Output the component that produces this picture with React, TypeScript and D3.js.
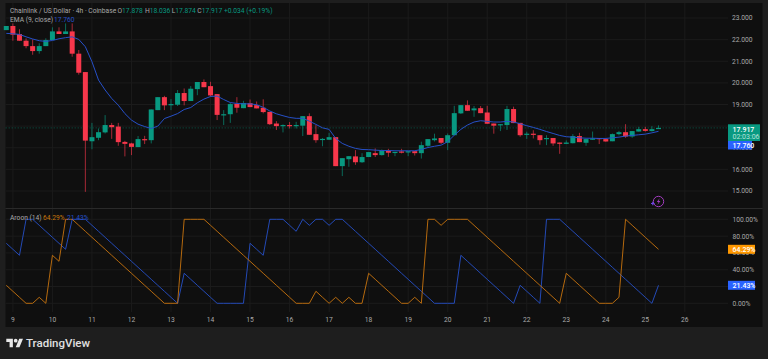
import React from "react";
import * as d3 from "d3";

const opens = [22.44,22.63,22.26,21.95,21.70,21.47,21.70,21.98,22.38,22.26,22.38,21.35,20.50,17.30,17.46,17.71,18.05,17.98,17.27,17.20,17.03,17.40,17.35,18.74,19.34,18.97,18.99,19.53,19.16,19.71,20.04,19.85,19.48,18.52,18.55,19.03,18.83,19.06,18.97,18.85,18.66,18.12,18.02,18.05,18.02,18.02,18.46,17.63,17.37,17.37,17.49,16.15,16.47,16.60,16.33,16.57,16.75,16.66,16.86,16.77,16.83,16.78,16.84,16.75,17.09,17.35,17.45,17.23,17.58,18.59,18.97,18.73,18.83,18.63,18.12,18.06,18.05,18.79,18.15,17.60,17.65,17.58,17.40,17.45,17.24,17.18,17.21,17.54,17.23,17.37,17.45,17.40,17.30,17.63,17.72,17.52,17.75,17.86,17.77,17.878];
const closes = [22.63,22.23,21.95,21.70,21.47,21.70,21.98,22.38,22.26,22.38,21.35,20.47,17.33,17.49,17.72,18.05,17.95,17.26,17.18,17.04,17.40,17.37,18.77,19.34,18.96,19.02,19.53,19.16,19.73,20.04,19.80,19.42,18.52,18.55,19.02,18.85,19.07,18.88,18.82,18.65,18.09,18.00,18.05,18.02,18.05,18.46,17.60,17.35,17.41,17.49,16.15,16.52,16.61,16.33,16.57,16.80,16.66,16.86,16.77,16.81,16.77,16.84,16.75,17.12,17.40,17.43,17.23,17.58,18.60,18.97,18.71,18.82,18.60,18.11,18.02,18.09,18.79,18.14,17.58,17.65,17.62,17.35,17.45,17.20,17.18,17.24,17.54,17.26,17.40,17.43,17.40,17.29,17.63,17.72,17.52,17.77,17.86,17.78,17.86,17.917];
const highs = [22.63,22.75,22.48,22.06,22.01,21.83,22.06,22.57,22.57,22.75,22.75,21.52,20.50,18.15,17.89,18.51,18.15,18.15,17.32,17.23,17.54,17.55,18.77,19.34,19.40,19.25,19.67,19.74,19.85,20.04,20.16,20.05,19.48,18.74,19.08,19.34,19.17,19.23,19.14,19.24,18.66,18.23,18.08,18.19,18.20,18.46,18.59,18.05,17.45,17.69,17.49,16.52,16.61,16.89,16.75,16.80,16.97,16.92,16.95,16.81,16.95,16.84,16.86,17.28,17.40,17.65,17.45,17.66,18.94,18.97,19.19,18.93,18.93,18.94,18.12,18.09,18.94,18.90,18.15,17.74,17.81,17.58,17.58,17.45,17.24,17.34,17.63,17.69,17.40,17.75,17.45,17.45,17.66,17.78,18.09,17.77,17.97,17.97,18.00,18.036];
const lows = [22.44,21.95,21.95,21.60,21.30,21.35,21.70,21.98,22.26,22.26,21.21,20.38,14.96,16.93,17.35,17.66,17.41,17.09,16.60,16.66,17.03,17.17,17.20,18.74,18.74,18.74,18.93,18.96,19.16,19.43,19.80,19.36,18.28,18.05,18.15,18.62,18.83,18.88,18.82,18.59,18.05,17.82,17.71,17.89,17.89,17.54,17.60,17.23,17.07,17.37,16.15,15.69,16.12,16.21,16.30,16.57,16.57,16.64,16.58,16.61,16.74,16.61,16.64,16.50,17.01,17.29,17.17,16.89,17.58,18.56,18.71,18.43,18.60,18.11,17.65,17.77,17.82,18.14,17.51,17.41,17.43,17.14,17.12,17.09,16.72,17.17,17.20,17.26,17.09,17.37,17.17,17.28,17.30,17.57,17.46,17.46,17.75,17.75,17.75,17.874];
const ema = [22.29,22.27,22.24,22.13,22.03,21.95,21.92,21.96,22.04,22.09,22.13,22.01,21.67,20.98,20.13,19.67,19.28,18.97,18.58,18.28,18.09,17.98,17.89,18.00,18.35,18.46,18.58,18.77,18.86,19.08,19.25,19.37,19.39,19.23,19.09,19.05,19.03,19.03,18.99,18.87,18.70,18.57,18.48,18.40,18.36,18.36,18.23,18.08,17.92,17.85,17.43,17.20,17.07,16.97,16.92,16.91,16.89,16.87,16.87,16.86,16.86,16.86,16.86,16.92,17.01,17.07,17.12,17.28,17.58,17.85,18.05,18.19,18.25,18.22,18.19,18.19,18.22,18.19,18.11,18.02,17.94,17.85,17.75,17.66,17.57,17.51,17.49,17.46,17.44,17.44,17.43,17.43,17.46,17.49,17.54,17.57,17.60,17.63,17.69,17.76];
const aroonOrange = [21.43,14.29,7.14,0,0,7.14,0,57.14,50,100,100,92.86,85.71,78.57,71.43,64.29,57.14,50,42.86,35.71,28.57,21.43,14.29,7.14,0,0,0,100,100,100,100,92.86,85.71,78.57,71.43,64.29,57.14,50,42.86,35.71,28.57,21.43,14.29,7.14,0,0,0,14.29,7.14,0,7.14,0,7.14,0,0,35.71,28.57,21.43,14.29,7.14,0,0,7.14,0,100,100,92.86,100,100,100,100,92.86,85.71,78.57,71.43,64.29,57.14,50,42.86,35.71,28.57,21.43,14.29,7.14,0,35.71,28.57,21.43,14.29,7.14,0,0,0,7.14,100,92.86,85.71,78.57,71.43,64.29];
const aroonBlue = [71.43,64.29,57.14,100,100,92.86,85.71,78.57,71.43,64.29,100,100,100,92.86,85.71,78.57,71.43,64.29,57.14,50,42.86,35.71,28.57,21.43,14.29,7.14,0,35.71,28.57,21.43,14.29,7.14,0,0,0,0,0,71.43,64.29,57.14,100,100,100,92.86,85.71,100,92.86,100,100,92.86,100,100,92.86,85.71,78.57,71.43,64.29,57.14,50,42.86,35.71,28.57,21.43,14.29,7.14,0,0,0,0,57.14,50,42.86,35.71,28.57,21.43,14.29,7.14,0,21.43,14.29,7.14,0,100,100,100,92.86,85.71,78.57,71.43,64.29,57.14,50,42.86,35.71,28.57,21.43,14.29,7.14,0,21.43];
const dayLabels = ["9","10","11","12","13","14","15","16","17","18","19","20","21","22","23","24","25","26"];
const dayIndex = [1,7,13,19,25,31,37,43,49,55,61,67,73,79,85,91,97,103];
const priceTicks = [23,22,21,20,19,18,17,16,15];
const priceLabels = [23,22,21,20,19,17,16,15];
const aroonTicks = [100,80,60,40,20,0];
const aroonLabels = [100,80,60,40,0];

const UP = "#089981", DOWN = "#f7374b", BLUE = "#2962ff", ORANGE = "#ff9800";
const FONT = "Roboto, 'Liberation Sans', sans-serif";
const FS = 6.7;

const x = d3.scaleLinear().domain([0, 99]).range([6.3, 658.5]);
const yP = d3.scaleLinear().domain([15, 23]).range([191, 18]);
const yA = d3.scaleLinear().domain([0, 100]).range([303.3, 219.3]);

const emaPath = d3.line<number>().x((_, i) => x(i)).y((d) => yP(d))(ema) ?? "";
const aLine = d3.line<number>().x((_, i) => x(i)).y((d) => yA(d));

export default function App() {
  return (
    <svg
      width={768}
      height={359}
      viewBox="0 0 768 359"
      style={{ position: "fixed", left: 0, top: 0, display: "block", fontFamily: FONT }}
    >
      <rect width={768} height={359} fill="#1e1e1e" />
      <rect x={5.5} y={3} width={757} height={324} fill="#0f0f0f" />
      <g stroke="#1b1b1b" strokeWidth={1}>
        {dayIndex.map((d) => (
          <line key={d} x1={x(d)} x2={x(d)} y1={3} y2={312} />
        ))}
        {priceTicks.map((p) => (
          <line key={p} x1={5.5} x2={728} y1={yP(p)} y2={yP(p)} />
        ))}
        {aroonTicks.map((p) => (
          <line key={p} x1={5.5} x2={728} y1={yA(p)} y2={yA(p)} />
        ))}
      </g>
      <line x1={5.5} x2={762.5} y1={208.5} y2={208.5} stroke="#2a2a2a" />
      <line x1={5.5} x2={728} y1={yP(17.917)} y2={yP(17.917)} stroke={UP} strokeOpacity={0.45} strokeDasharray="1.5 1.5" strokeWidth={0.8} />

      {opens.map((o, i) => {
        const c = closes[i];
        const col = c >= o ? UP : DOWN;
        const top = yP(Math.max(o, c));
        const h = Math.max(1.2, Math.abs(yP(o) - yP(c)));
        return (
          <g key={i}>
            <line x1={x(i)} x2={x(i)} y1={yP(highs[i])} y2={yP(lows[i])} stroke={col} strokeOpacity={0.65} strokeWidth={1} />
            <rect x={x(i) - 2.5} y={top} width={5} height={h} fill={col} />
          </g>
        );
      })}
      <path d={emaPath} fill="none" stroke="#2650c8" strokeWidth={1} />

      <path d={aLine(aroonBlue) ?? ""} fill="none" stroke="#2650c8" strokeWidth={0.9} />
      <path d={aLine(aroonOrange) ?? ""} fill="none" stroke="#c8740e" strokeWidth={0.9} />

      {/* Header */}
      <g fontSize={FS} fill="#a9a9a9">
        <text x={10} y={12.5}>Chainlink / US Dollar · 4h · Coinbase</text>
        <text x={117.5} y={12.5}>O<tspan fill={UP}>17.878</tspan></text>
        <text x={145} y={12.5}>H<tspan fill={UP}>18.036</tspan></text>
        <text x={171.7} y={12.5}>L<tspan fill={UP}>17.874</tspan></text>
        <text x={197.3} y={12.5}>C<tspan fill={UP}>17.917</tspan></text>
        <text x={224} y={12.5} fill={UP}>+0.034 (+0.19%)</text>
        <text x={10} y={21.7}>EMA (9, close)</text>
        <text x={54} y={21.7} fill="#2650c8">17.760</text>
        <text x={10} y={219.5}>Aroon (14)</text>
        <text x={43} y={219.5} fill="#c8760c">64.29%</text>
        <text x={67} y={219.5} fill="#2650c8">21.43%</text>
      </g>

      {/* Price axis */}
      <g fontSize={FS} fill="#a9a9a9">
        {priceLabels.map((p) => (
          <text key={p} x={732} y={yP(p) + 2.4}>{p.toFixed(3)}</text>
        ))}
        {aroonLabels.map((p) => (
          <text key={p} x={732.5} y={yA(p) + 2.4}>{p.toFixed(2)}%</text>
        ))}
      </g>
      <g fontSize={FS} fill="#a9a9a9" textAnchor="middle">
        {dayLabels.map((d, i) => (
          <text key={d} x={x(dayIndex[i])} y={322}>{d}</text>
        ))}
      </g>

      {/* Last value labels */}
      <g fontSize={7} fontWeight={500}>
        <rect x={728} y={124.3} width={32} height={16.7} fill={UP} />
        <text x={732.5} y={131.5} fill="#ffffff">17.917</text>
        <text x={732.5} y={139} fill="#b7e3da" fontWeight={400}>02:03:06</text>
        <rect x={728} y={141} width={24} height={8.5} fill={BLUE} />
        <text x={732.5} y={148} fill="#ffffff">17.760</text>
        <rect x={728} y={yA(64.29) - 4.5} width={27} height={9} fill={ORANGE} />
        <text x={732.5} y={yA(64.29) + 2.5} fill="#ffffff">64.29%</text>
        <rect x={728} y={yA(21.43) - 4.5} width={27} height={9} fill={BLUE} />
        <text x={732.5} y={yA(21.43) + 2.5} fill="#ffffff">21.43%</text>
      </g>

      {/* Purple marker */}
      <circle cx={658.5} cy={201.5} r={5.2} fill="none" stroke="#a23cc0" strokeWidth={1} />
      <path d="M659.8 198 L656.8 202 L658.6 202 L657.4 205 L660.4 200.9 L658.6 200.9 Z" fill="#a23cc0" />
      <path d="M651 203.5 h3.6 M652.8 201.7 v3.6" stroke="#6a45e0" strokeWidth={1.2} />

      {/* Footer logo */}
      <g transform="translate(6.3 336.9) scale(0.47)" fill="#e8e8e8">
        <path d="M14 22H7V11H0V4h14v18zM28 22h-8l7.5-18h8L28 22z" />
        <circle cx={20} cy={8} r={4} />
      </g>
      <text x={26} y={346.8} fontSize={11.5} fontWeight={500} fill="#e0e0e0">TradingView</text>
    </svg>
  );
}
